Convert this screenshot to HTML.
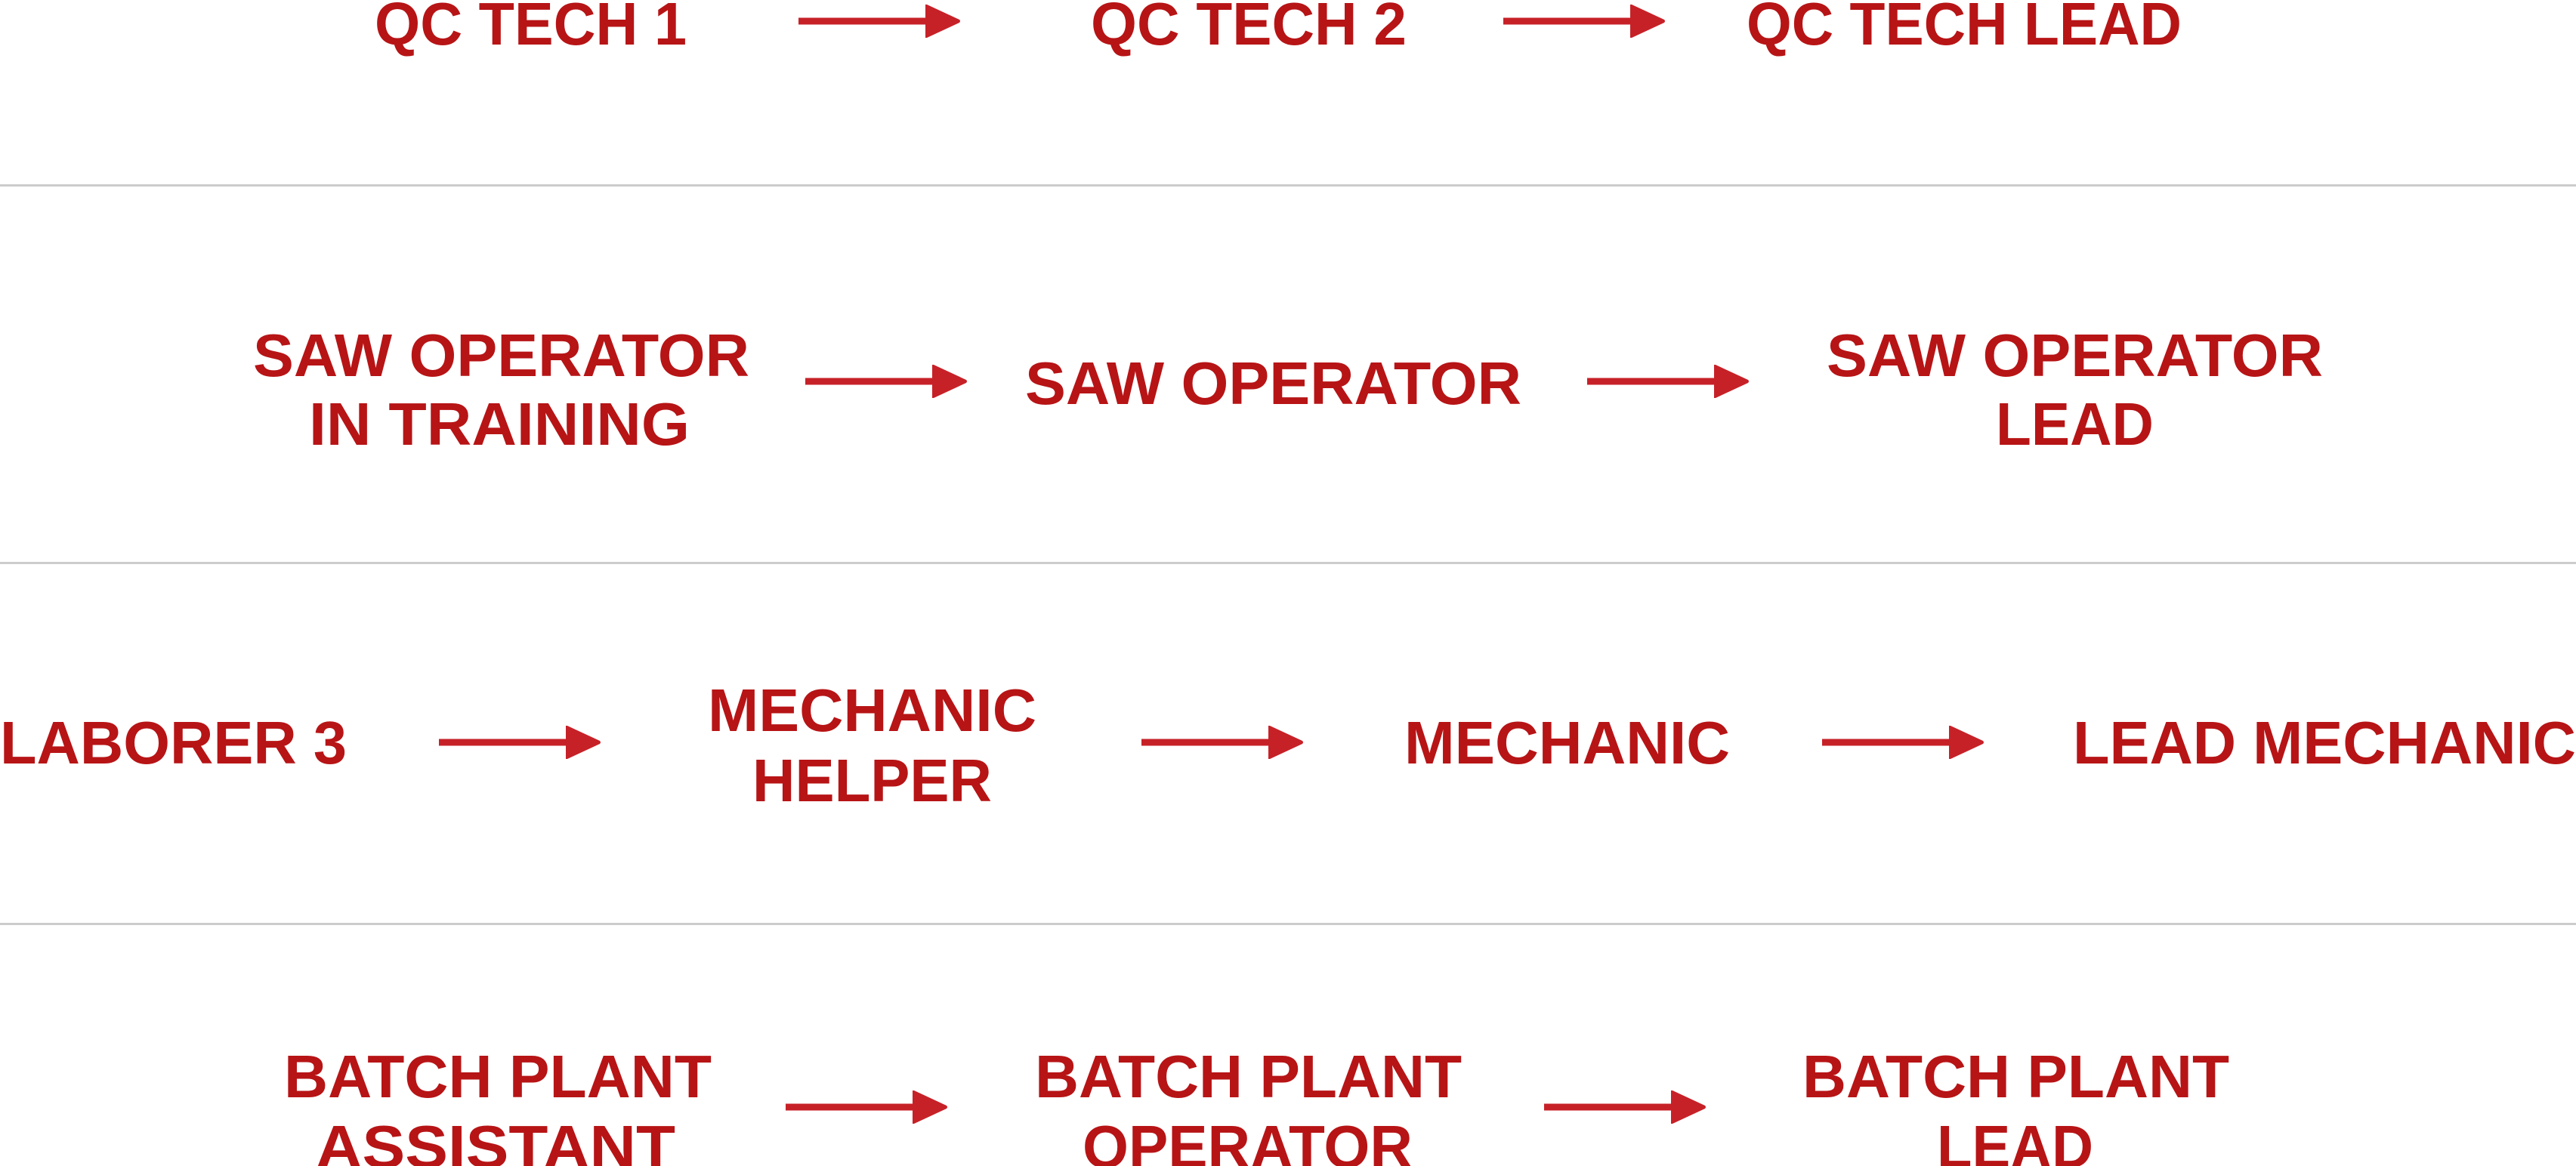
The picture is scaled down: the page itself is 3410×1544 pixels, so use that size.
<!DOCTYPE html>
<html><head><meta charset="utf-8"><style>
html,body{margin:0;padding:0;background:#fff;}
svg{display:block;}
text{font-family:"Liberation Sans",sans-serif;font-weight:bold;font-size:80px;fill:#b71416;}
</style></head><body>
<svg width="3410" height="1544" viewBox="0 0 3410 1544" xmlns="http://www.w3.org/2000/svg">
<defs>
<g id="arr"><rect x="0" y="-4.5" width="172" height="9" fill="#c72128"/><path d="M168,-22 L170,-22 L213,-2 Q215,0 213,2 L170,22 L168,22 Z" fill="#c72128"/></g>
</defs>
<rect x="0" y="244" width="3410" height="3" fill="#cccccc"/>
<rect x="0" y="744" width="3410" height="3" fill="#cccccc"/>
<rect x="0" y="1222" width="3410" height="3" fill="#cccccc"/>

<!-- Row 1 -->
<text x="496" y="59" textLength="413" lengthAdjust="spacingAndGlyphs">QC TECH 1</text>
<text x="1444" y="59" textLength="418" lengthAdjust="spacingAndGlyphs">QC TECH 2</text>
<text x="2312" y="59" textLength="576" lengthAdjust="spacingAndGlyphs">QC TECH LEAD</text>
<use href="#arr" x="1057" y="28"/>
<use href="#arr" x="1990" y="28"/>

<!-- Row 2 -->
<text x="335" y="498" textLength="657" lengthAdjust="spacingAndGlyphs">SAW OPERATOR</text>
<text x="409" y="589" textLength="504" lengthAdjust="spacingAndGlyphs">IN TRAINING</text>
<text x="1357" y="535" textLength="657" lengthAdjust="spacingAndGlyphs">SAW OPERATOR</text>
<text x="2418" y="498" textLength="657" lengthAdjust="spacingAndGlyphs">SAW OPERATOR</text>
<text x="2642" y="589" textLength="209" lengthAdjust="spacingAndGlyphs">LEAD</text>
<use href="#arr" x="1066" y="505"/>
<use href="#arr" x="2101" y="505"/>

<!-- Row 3 -->
<text x="0" y="1011" textLength="459" lengthAdjust="spacingAndGlyphs">LABORER 3</text>
<text x="937" y="968" textLength="435" lengthAdjust="spacingAndGlyphs">MECHANIC</text>
<text x="996" y="1061" textLength="317" lengthAdjust="spacingAndGlyphs">HELPER</text>
<text x="1859" y="1011" textLength="431" lengthAdjust="spacingAndGlyphs">MECHANIC</text>
<text x="2744" y="1011" textLength="666" lengthAdjust="spacingAndGlyphs">LEAD MECHANIC</text>
<use href="#arr" x="581" y="983"/>
<use href="#arr" x="1511" y="983"/>
<use href="#arr" x="2412" y="983"/>

<!-- Row 4 -->
<text x="376" y="1453" textLength="566" lengthAdjust="spacingAndGlyphs">BATCH PLANT</text>
<text x="418" y="1546" textLength="476" lengthAdjust="spacingAndGlyphs">ASSISTANT</text>
<text x="1370" y="1453" textLength="565" lengthAdjust="spacingAndGlyphs">BATCH PLANT</text>
<text x="1433" y="1546" textLength="437" lengthAdjust="spacingAndGlyphs">OPERATOR</text>
<text x="2386" y="1453" textLength="565" lengthAdjust="spacingAndGlyphs">BATCH PLANT</text>
<text x="2564" y="1546" textLength="207" lengthAdjust="spacingAndGlyphs">LEAD</text>
<use href="#arr" x="1040" y="1466"/>
<use href="#arr" x="2044" y="1466"/>
</svg>
</body></html>
